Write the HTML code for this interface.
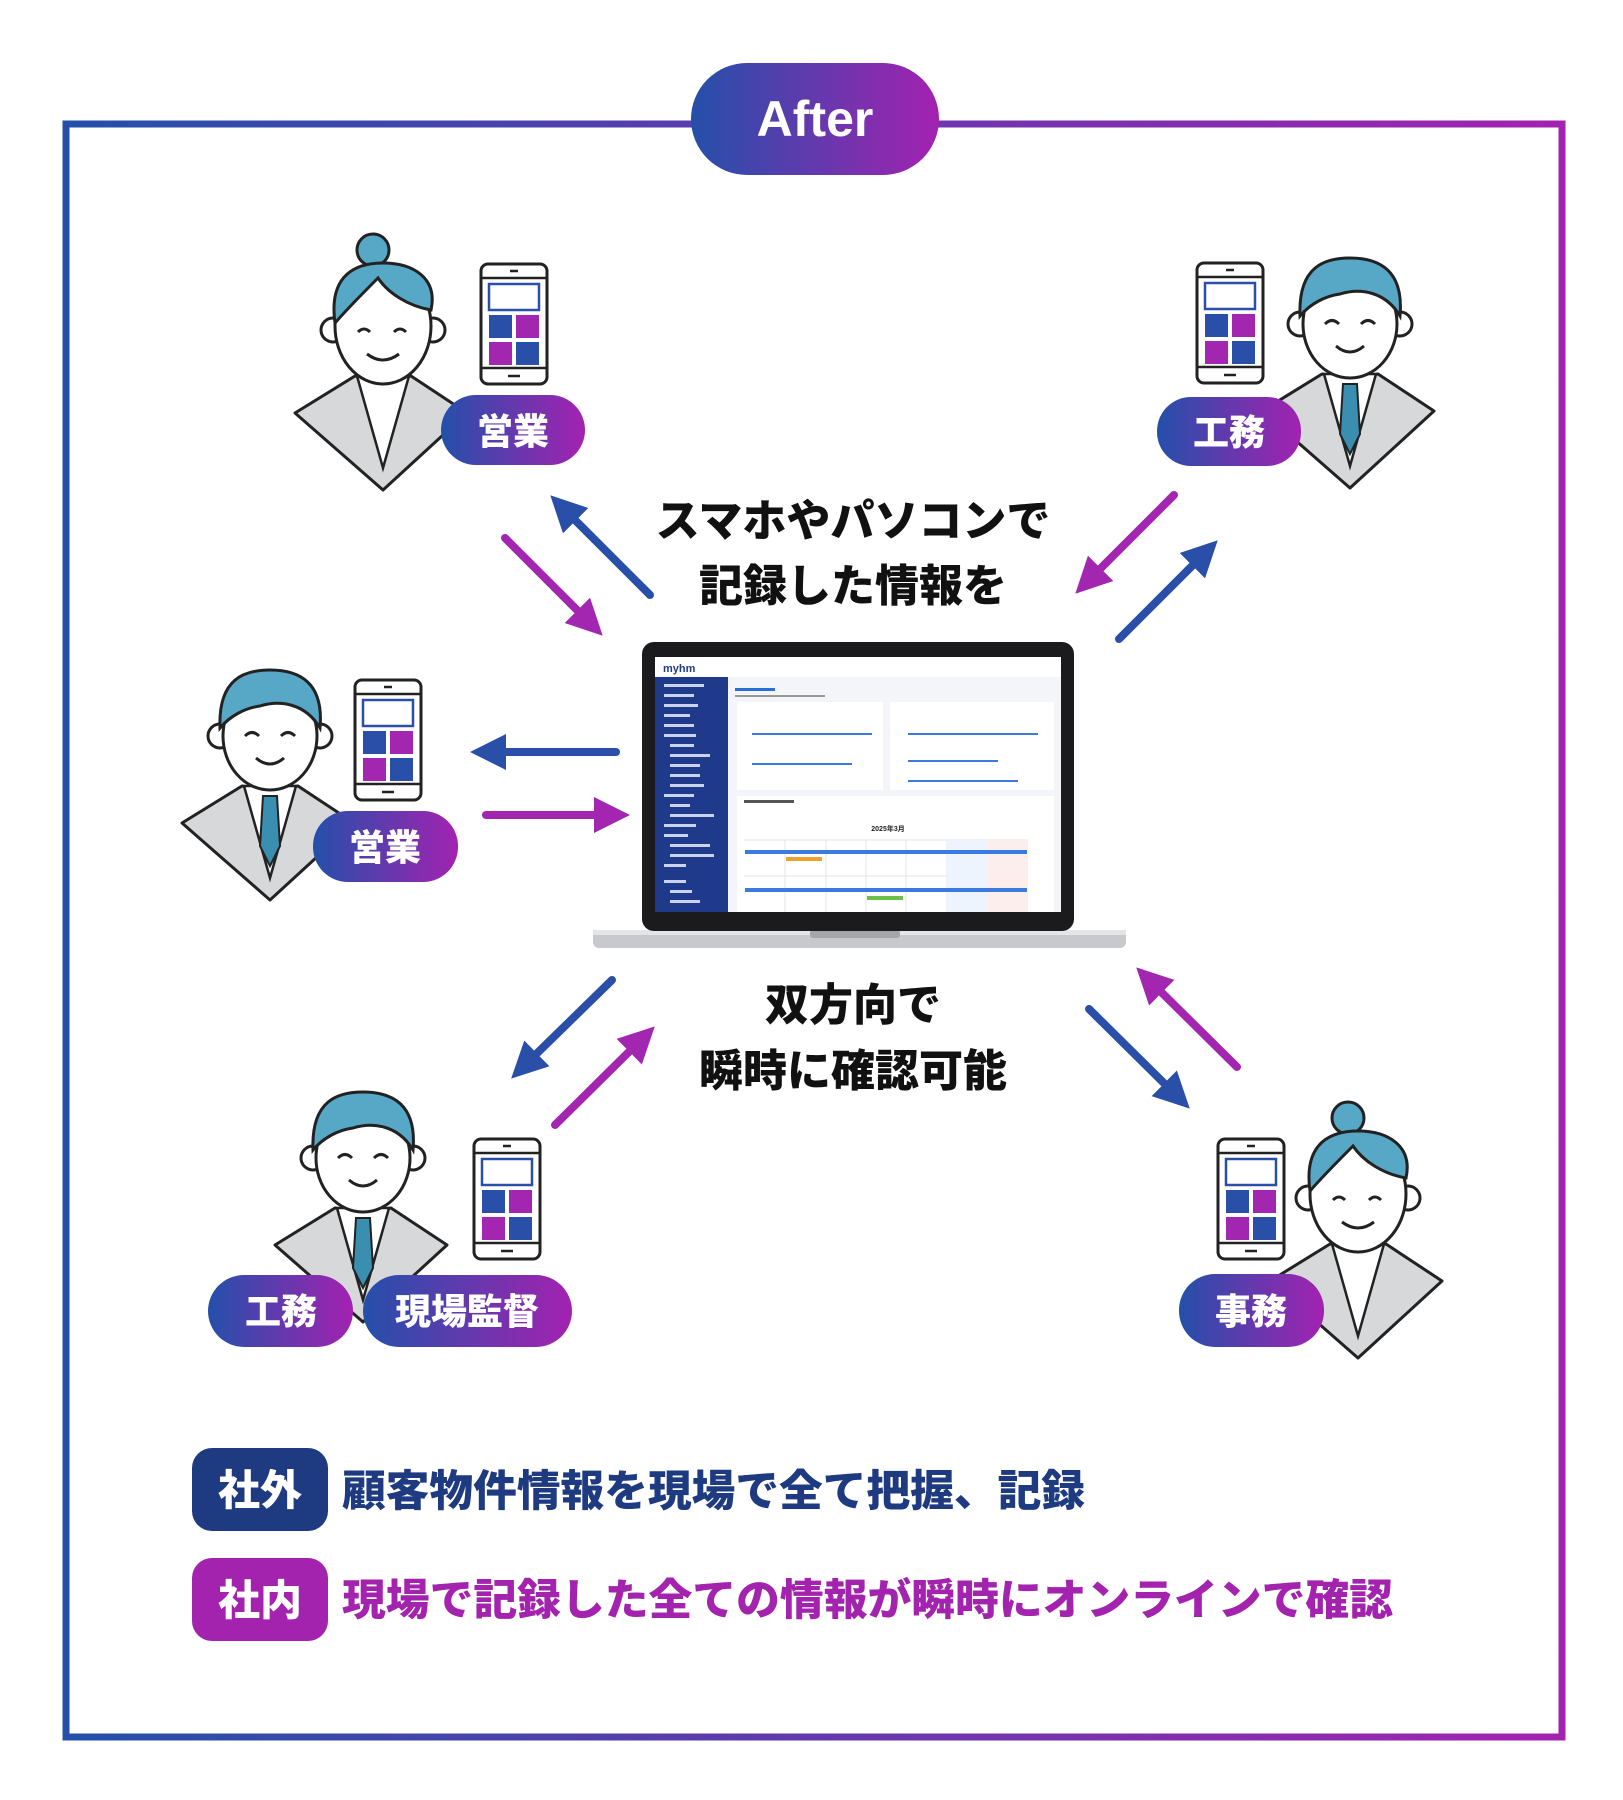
<!DOCTYPE html>
<html><head><meta charset="utf-8"><style>
html,body{margin:0;padding:0;background:#fff;}
svg{display:block;}
text{font-family:"Liberation Sans","Noto Sans CJK JP",sans-serif;font-weight:900;}
</style></head><body>
<svg width="1623" height="1800" viewBox="0 0 1623 1800" xmlns="http://www.w3.org/2000/svg">
<defs>
<linearGradient id="g" x1="0" y1="0" x2="1" y2="0">
<stop offset="0" stop-color="#2450aa"/><stop offset="1" stop-color="#a322b0"/></linearGradient>
<linearGradient id="gf" gradientUnits="userSpaceOnUse" x1="63" y1="0" x2="1565" y2="0">
<stop offset="0" stop-color="#2450aa"/><stop offset="1" stop-color="#a322b0"/></linearGradient>
<marker id="ab" viewBox="0 0 10 10" refX="5" refY="5" markerWidth="4.5" markerHeight="4.5" orient="auto"><path d="M0,0 L10,5 L0,10 z" fill="#2a4fa8"/></marker>
<marker id="ap" viewBox="0 0 10 10" refX="5" refY="5" markerWidth="4.5" markerHeight="4.5" orient="auto"><path d="M0,0 L10,5 L0,10 z" fill="#a226b0"/></marker>
<g id="phone">
<rect x="0" y="0" width="66" height="120" rx="7" fill="#fff" stroke="#222" stroke-width="3"/>
<line x1="0" y1="14" x2="66" y2="14" stroke="#222" stroke-width="2.5"/>
<line x1="0" y1="104" x2="66" y2="104" stroke="#222" stroke-width="2.5"/>
<line x1="29" y1="7" x2="37" y2="7" stroke="#222" stroke-width="2.5"/>
<line x1="27" y1="112" x2="39" y2="112" stroke="#222" stroke-width="2.5"/>
<rect x="8" y="20" width="50" height="26" fill="#fff" stroke="#2a4fa8" stroke-width="2.5"/>
<rect x="8" y="51" width="23" height="23" fill="#2a4fa8"/><rect x="35" y="51" width="23" height="23" fill="#a226b0"/>
<rect x="8" y="78" width="23" height="23" fill="#a226b0"/><rect x="35" y="78" width="23" height="23" fill="#2a4fa8"/>
</g>
<g id="man">
<polygon points="-88,95 -28,58 0,62 28,58 84,95 0,172" fill="#d6d8da" stroke="#222" stroke-width="3" stroke-linejoin="round"/>
<polygon points="-26,58 26,58 0,150" fill="#fff" stroke="#222" stroke-width="2.5"/>
<polygon points="-7,68 7,68 10,118 0,138 -10,118" fill="#3a8fb0" stroke="#222" stroke-width="2"/>
<circle cx="-50" cy="8" r="12" fill="#fff" stroke="#222" stroke-width="3"/>
<circle cx="50" cy="8" r="12" fill="#fff" stroke="#222" stroke-width="3"/>
<ellipse cx="0" cy="8" rx="47" ry="54" fill="#fff" stroke="#222" stroke-width="3"/>
<path d="M-50,0 C-52,-50 -25,-58 0,-58 C30,-58 54,-45 50,0 C35,-25 10,-28 -10,-22 C-25,-20 -40,-12 -50,0z" fill="#57a7c6" stroke="#222" stroke-width="3"/>
<path d="M-25,8 q7,-7 14,0 M11,8 q7,-7 14,0" fill="none" stroke="#222" stroke-width="3"/>
<path d="M-14,30 q14,12 28,0" fill="none" stroke="#222" stroke-width="3"/>
</g>
<g id="woman">
<polygon points="-88,95 -28,58 0,62 28,58 84,95 0,172" fill="#d6d8da" stroke="#222" stroke-width="3" stroke-linejoin="round"/>
<polygon points="-26,58 26,58 0,150" fill="#fff" stroke="#222" stroke-width="2.5"/>
<circle cx="-10" cy="-68" r="16" fill="#57a7c6" stroke="#222" stroke-width="3"/>
<circle cx="-50" cy="12" r="12" fill="#fff" stroke="#222" stroke-width="3"/>
<circle cx="50" cy="12" r="12" fill="#fff" stroke="#222" stroke-width="3"/>
<ellipse cx="0" cy="8" rx="48" ry="58" fill="#fff" stroke="#222" stroke-width="3"/>
<path d="M-48,5 C-55,-45 -25,-55 0,-55 C30,-55 55,-40 48,-8 C25,-12 5,-25 -5,-40 C-20,-25 -35,-10 -48,5z" fill="#57a7c6" stroke="#222" stroke-width="3"/>
<path d="M-25,14 q6,-6 12,0 M11,14 q6,-6 12,0" fill="none" stroke="#222" stroke-width="3"/>
<path d="M-16,36 q16,12 32,0" fill="none" stroke="#222" stroke-width="3"/>
</g>
</defs>

<!-- frame -->
<rect x="66" y="124" width="1496" height="1613" fill="none" stroke="url(#gf)" stroke-width="7"/>
<rect x="691" y="63" width="248" height="112" rx="56" fill="url(#g)"/>
<text x="815" y="136" font-size="50" fill="#fff" text-anchor="middle">After</text>

<!-- people -->
<use href="#woman" x="383" y="318"/>
<use href="#phone" x="481" y="264"/>
<rect x="441" y="395" width="144" height="70" rx="35" fill="url(#g)"/>
<text x="513" y="444" font-size="36" fill="#fff" text-anchor="middle">営業</text>

<use href="#man" x="1350" y="316"/>
<use href="#phone" x="1197" y="263"/>
<rect x="1157" y="397" width="144" height="69" rx="34" fill="url(#g)"/>
<text x="1229" y="445" font-size="36" fill="#fff" text-anchor="middle">工務</text>

<use href="#man" x="270" y="728"/>
<use href="#phone" x="355" y="680"/>
<rect x="313" y="811" width="145" height="71" rx="35" fill="url(#g)"/>
<text x="385" y="860" font-size="36" fill="#fff" text-anchor="middle">営業</text>

<use href="#man" x="363" y="1150"/>
<use href="#phone" x="474" y="1139"/>
<rect x="208" y="1275" width="145" height="72" rx="36" fill="url(#g)"/>
<text x="281" y="1324" font-size="36" fill="#fff" text-anchor="middle">工務</text>
<rect x="363" y="1275" width="209" height="72" rx="36" fill="url(#g)"/>
<text x="467" y="1324" font-size="36" fill="#fff" text-anchor="middle">現場監督</text>

<use href="#woman" x="1358" y="1186"/>
<use href="#phone" x="1218" y="1139"/>
<rect x="1179" y="1274" width="145" height="73" rx="36" fill="url(#g)"/>
<text x="1251" y="1324" font-size="36" fill="#fff" text-anchor="middle">事務</text>

<!-- arrows -->
<g stroke-width="8" stroke-linecap="round">
<line x1="505" y1="538" x2="590" y2="623" stroke="#a226b0" marker-end="url(#ap)"/>
<line x1="650" y1="595" x2="563" y2="508" stroke="#2a4fa8" marker-end="url(#ab)"/>
<line x1="1174" y1="495" x2="1088" y2="581" stroke="#a226b0" marker-end="url(#ap)"/>
<line x1="1119" y1="639" x2="1205" y2="553" stroke="#2a4fa8" marker-end="url(#ab)"/>
<line x1="616" y1="752" x2="488" y2="752" stroke="#2a4fa8" marker-end="url(#ab)"/>
<line x1="486" y1="815" x2="612" y2="815" stroke="#a226b0" marker-end="url(#ap)"/>
<line x1="612" y1="980" x2="524" y2="1066" stroke="#2a4fa8" marker-end="url(#ab)"/>
<line x1="555" y1="1125" x2="642" y2="1039" stroke="#a226b0" marker-end="url(#ap)"/>
<line x1="1089" y1="1009" x2="1177" y2="1096" stroke="#2a4fa8" marker-end="url(#ab)"/>
<line x1="1237" y1="1067" x2="1149" y2="980" stroke="#a226b0" marker-end="url(#ap)"/>
</g>

<!-- center texts -->
<g font-size="44" fill="#111" text-anchor="middle">
<text x="853" y="536">スマホやパソコンで</text>
<text x="853" y="601">記録した情報を</text>
<text x="853" y="1020">双方向で</text>
<text x="853" y="1086">瞬時に確認可能</text>
</g>

<!-- laptop -->
<rect x="593" y="930" width="533" height="18" rx="6" fill="#c8c9cc"/>
<rect x="593" y="930" width="533" height="5" fill="#e4e5e7"/>
<rect x="810" y="930" width="90" height="8" rx="3" fill="#a5a6a9"/>
<rect x="642" y="642" width="432" height="289" rx="12" fill="#1b1b1d"/>
<rect x="655" y="657" width="406" height="255" fill="#f3f5f8"/>
<rect x="655" y="657" width="406" height="20" fill="#fff"/>
<text x="663" y="672" font-size="11" fill="#1f3a8a" style="font-weight:700">myhm</text>
<rect x="655" y="677" width="73" height="235" fill="#1f3a8a"/>
<g fill="#c9d3ee">
<rect x="664" y="684" width="40" height="3"/><rect x="664" y="694" width="30" height="3"/><rect x="664" y="704" width="34" height="3"/>
<rect x="664" y="714" width="26" height="3"/><rect x="664" y="724" width="30" height="3"/><rect x="664" y="734" width="32" height="3"/>
<rect x="670" y="744" width="24" height="3"/><rect x="670" y="754" width="40" height="3"/><rect x="670" y="764" width="30" height="3"/>
<rect x="670" y="774" width="30" height="3"/><rect x="670" y="784" width="34" height="3"/><rect x="664" y="794" width="30" height="3"/>
<rect x="670" y="804" width="20" height="3"/><rect x="670" y="814" width="44" height="3"/><rect x="664" y="824" width="32" height="3"/>
<rect x="664" y="834" width="24" height="3"/><rect x="670" y="844" width="40" height="3"/><rect x="670" y="854" width="44" height="3"/>
<rect x="664" y="864" width="22" height="3"/><rect x="664" y="880" width="22" height="3"/><rect x="670" y="890" width="22" height="3"/><rect x="670" y="900" width="30" height="3"/>
</g>
<rect x="735" y="688" width="40" height="3" fill="#2a6fd6"/>
<rect x="735" y="695" width="90" height="2" fill="#999"/>
<rect x="737" y="702" width="146" height="88" fill="#fff"/>
<rect x="890" y="702" width="164" height="88" fill="#fff"/>
<g fill="#3b7be0">
<rect x="752" y="733" width="120" height="2"/><rect x="752" y="763" width="100" height="2"/>
<rect x="908" y="733" width="130" height="2"/><rect x="908" y="760" width="90" height="2"/><rect x="908" y="780" width="110" height="2"/>
</g>
<rect x="737" y="796" width="317" height="116" fill="#fff"/>
<rect x="744" y="800" width="50" height="3" fill="#555"/>
<text x="888" y="831" font-size="7" fill="#222" text-anchor="middle" style="font-weight:700">2025年3月</text>
<g stroke="#e2e4e8" stroke-width="1">
<line x1="744" y1="840" x2="1028" y2="840"/><line x1="744" y1="876" x2="1028" y2="876"/>
<line x1="785" y1="840" x2="785" y2="912"/><line x1="826" y1="840" x2="826" y2="912"/><line x1="866" y1="840" x2="866" y2="912"/>
<line x1="906" y1="840" x2="906" y2="912"/><line x1="947" y1="840" x2="947" y2="912"/><line x1="988" y1="840" x2="988" y2="912"/>
</g>
<rect x="947" y="840" width="41" height="72" fill="#eef4fd"/>
<rect x="988" y="840" width="40" height="72" fill="#fdeeee"/>
<rect x="745" y="850" width="282" height="4" fill="#3b7be0"/>
<rect x="786" y="857" width="36" height="4" fill="#f0a030"/>
<rect x="745" y="888" width="282" height="4" fill="#3b7be0"/>
<rect x="867" y="896" width="36" height="4" fill="#6cc04a"/>

<!-- bottom -->
<rect x="192" y="1448" width="136" height="83" rx="20" fill="#1e3a80"/>
<text x="260" y="1505" font-size="42" fill="#fff" text-anchor="middle">社外</text>
<text x="342" y="1506" font-size="43" fill="#1e3a80" textLength="743" lengthAdjust="spacingAndGlyphs">顧客物件情報を現場で全て把握、記録</text>
<rect x="192" y="1558" width="136" height="83" rx="20" fill="#a322ae"/>
<text x="260" y="1615" font-size="42" fill="#fff" text-anchor="middle">社内</text>
<text x="342" y="1615" font-size="43" fill="#a322ae" textLength="1051" lengthAdjust="spacingAndGlyphs">現場で記録した全ての情報が瞬時にオンラインで確認</text>
</svg>
</body></html>
